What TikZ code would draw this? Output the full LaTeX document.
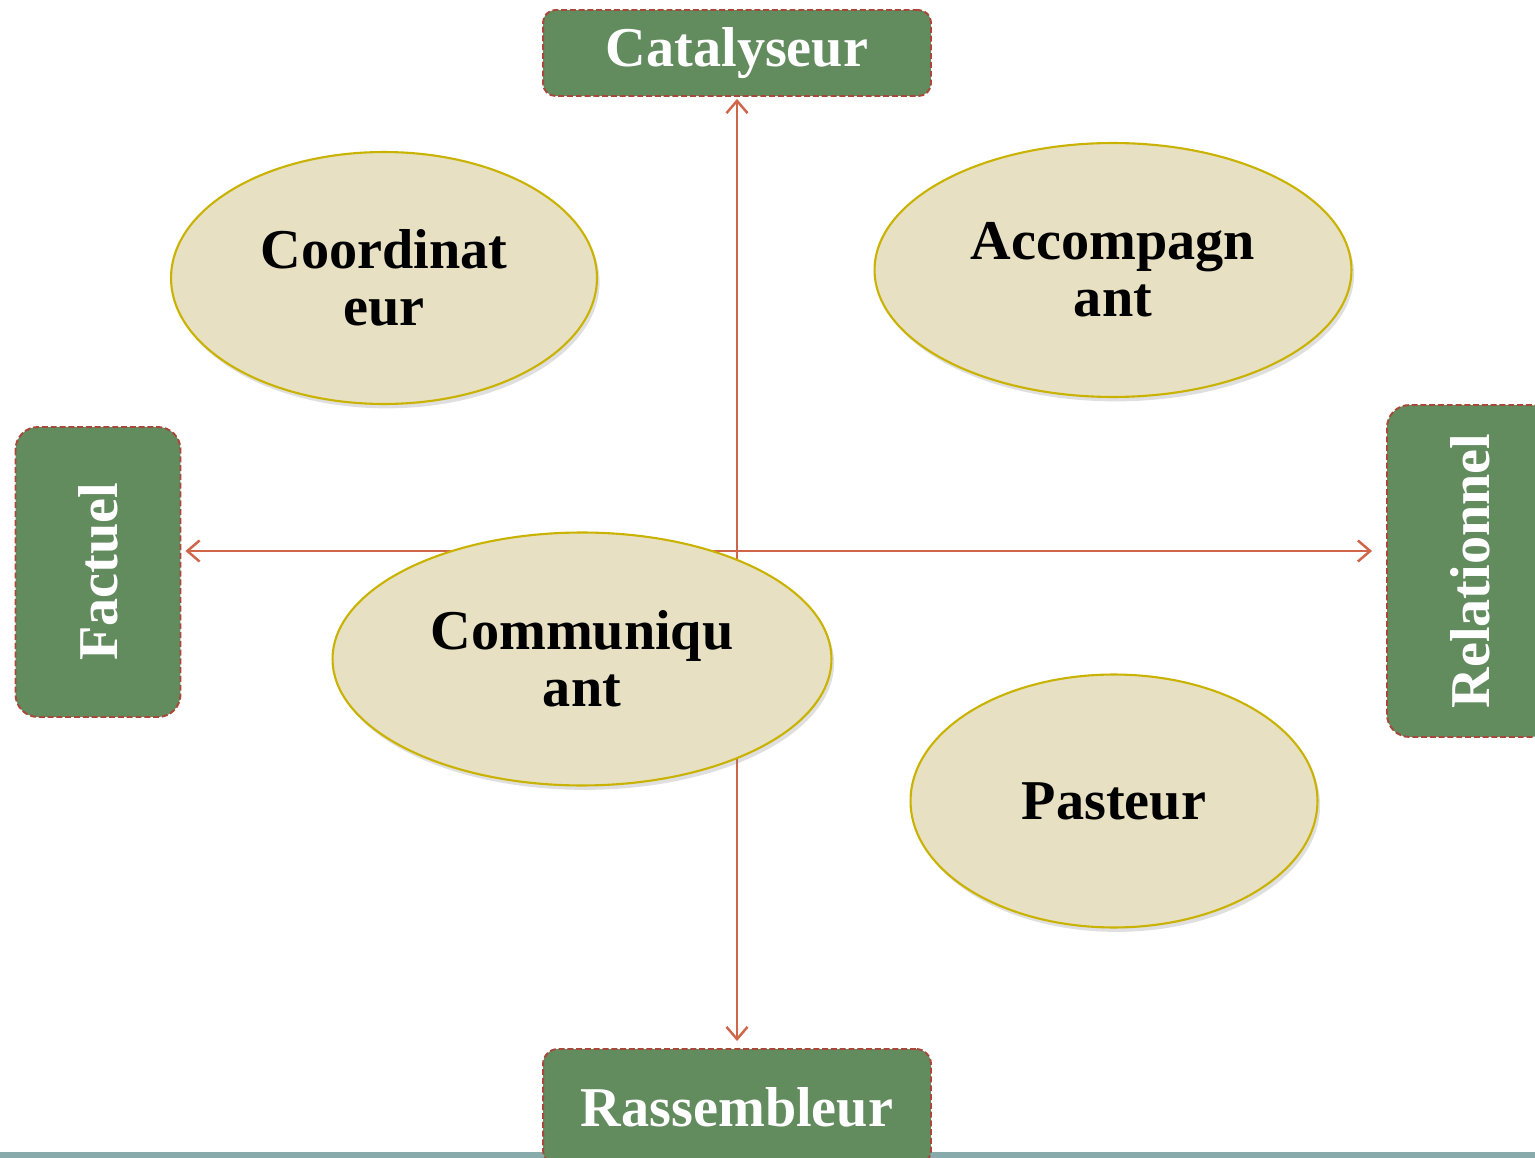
\documentclass[tikz,border=0pt]{standalone}
\usepackage{fontspec}
\setmainfont{Liberation Serif}
\usepackage{tikz}
\usetikzlibrary{shapes,shadows,positioning}
\usetikzlibrary{arrows.meta}
\usetikzlibrary{calc}

\definecolor{boxgreen}{HTML}{628B5E}
\definecolor{boxline}{HTML}{A8483A}
\definecolor{axisred}{HTML}{D0654A}
\definecolor{ellfill}{HTML}{E8E0C3}
\definecolor{elldraw}{HTML}{C9B200}
\definecolor{barteal}{HTML}{88AAAA}

\tikzset{
  pole/.style={draw=boxline, fill=boxgreen, line width=1.1pt,
    dash pattern=on 3.4pt off 1.6pt, text=white,
    font=\fontsize{32}{33}\selectfont\bfseries},
  role/.style={ellipse, draw=elldraw, fill=ellfill, line width=1.2pt,
    align=center, font=\fontsize{32}{32.5}\selectfont\bfseries,
    drop shadow={shadow xshift=1.5pt, shadow yshift=-2.5pt, opacity=0.25}},
  axis/.style={draw=axisred, line width=1.4pt,
    -{Straight Barb[length=7pt,width=12pt]}}
}

\begin{document}
\begin{tikzpicture}[x=0.02cm, y=-0.02cm]
\useasboundingbox (0,0) rectangle (1535,1158);

\fill[barteal] (0,1152) rectangle (1535,1158);

\coordinate (o) at (737,551);

\node[pole, rounded corners=0.25cm, minimum width=7.76cm, minimum height=1.72cm] (cat) at (737,53) {Catalyseur};
\node[pole, rounded corners=0.3cm, minimum width=7.76cm, minimum height=2.32cm] (ras) at (737,1107) {Rassembleur};
\node[pole, rounded corners=0.45cm, rotate=90, minimum width=5.8cm, minimum height=3.3cm] (fac) at (98,572) {Factuel};
\node[pole, rounded corners=0.45cm, rotate=90, minimum width=6.64cm, minimum height=3.32cm] (rel) at (1470,571) {Relationnel};

\draw[axis] (o) -- ($(cat.south)+(0,2)$);
\draw[axis] (o) -- ($(ras.north)+(0,-7)$);
\draw[axis] (o) -- ($(fac.south |- o)+(4,0)$);
\draw[axis] (o) -- ($(rel.north |- o)+(-14,0)$);

\node[role, minimum width=8.52cm, minimum height=5.04cm] (coo) at (384,278) {Coordinat\\eur};
\node[role, minimum width=9.54cm, minimum height=5.08cm] (acc) at (1113,270) {Accompagn\\ant};
\node[role, minimum width=9.98cm, minimum height=5.06cm] (com) at (582,659) {Communiqu\\ant};
\node[role, minimum width=8.14cm, minimum height=5.06cm] (pas) at (1114,801) {Pasteur};
\end{tikzpicture}
\end{document}
